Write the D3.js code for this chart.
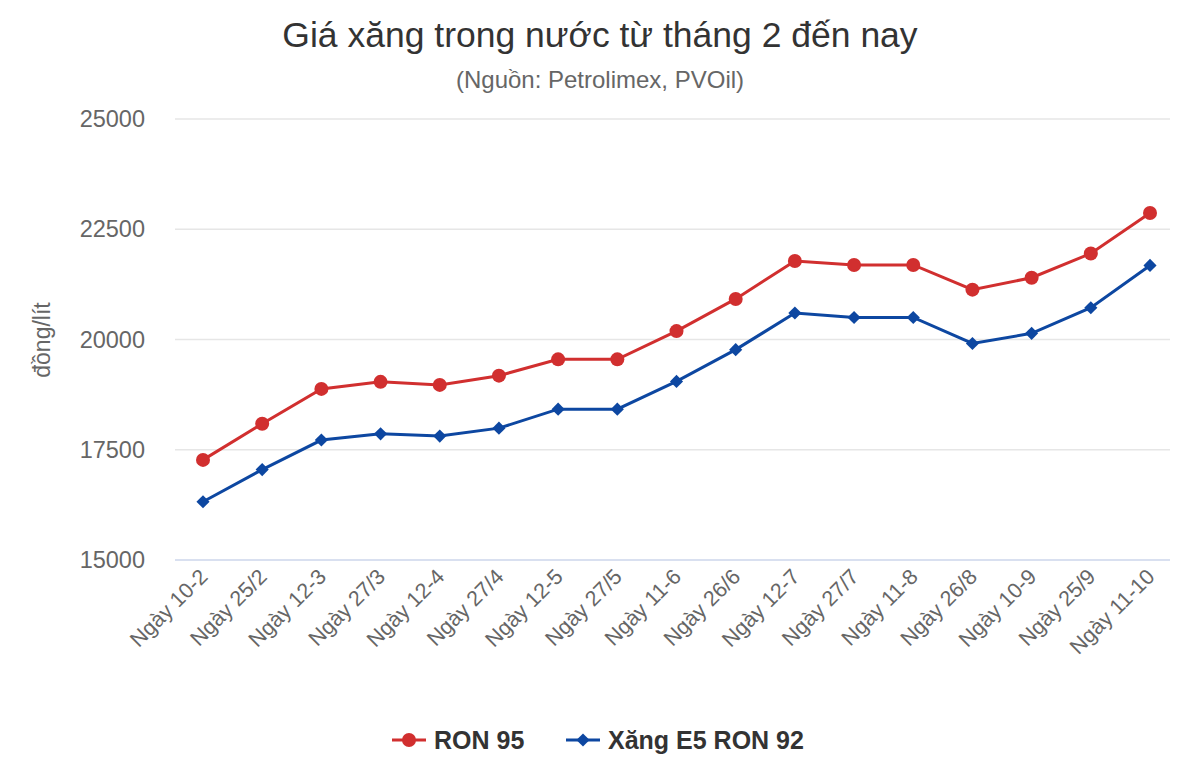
<!DOCTYPE html><html><head><meta charset="utf-8"><script src="https://cdn.jsdelivr.net/npm/d3@7"></script>
<style>body{margin:0;background:#fff}text{font-family:"Liberation Sans",Arial,sans-serif}</style></head><body><svg id="c" width="1200" height="766"></svg>
<script>
const categories=["Ngày 10-2","Ngày 25/2","Ngày 12-3","Ngày 27/3","Ngày 12-4","Ngày 27/4","Ngày 12-5","Ngày 27/5","Ngày 11-6","Ngày 26/6","Ngày 12-7","Ngày 27/7","Ngày 11-8","Ngày 26/8","Ngày 10-9","Ngày 25/9","Ngày 11-10"];
const ron95=[17270,18090,18880,19040,18970,19180,19550,19550,20190,20920,21780,21690,21690,21130,21400,21950,22870];
const e5=[16320,17050,17720,17860,17810,17990,18420,18420,19050,19770,20600,20500,20500,19910,20140,20720,21680];
const yTicks=[15000,17500,20000,22500,25000];
const svg=d3.select("#c");
const x=d3.scalePoint().domain(categories).range([203,1150]);
const y=d3.scaleLinear().domain([15000,25000]).range([560,119]);
svg.append("text").attr("x",600).attr("y",47).attr("text-anchor","middle").attr("font-size",35.5).attr("fill","#333").text("Giá xăng trong nước từ tháng 2 đến nay");
svg.append("text").attr("x",600).attr("y",88).attr("text-anchor","middle").attr("font-size",24).attr("fill","#666").text("(Nguồn: Petrolimex, PVOil)");
yTicks.forEach(t=>{svg.append("line").attr("x1",175).attr("x2",1170).attr("y1",y(t)).attr("y2",y(t)).attr("stroke",t===15000?"#ccd6eb":"#e6e6e6").attr("stroke-width",1.5);
svg.append("text").attr("x",145).attr("y",y(t)+8).attr("text-anchor","end").attr("font-size",23.5).attr("fill","#666").text(t);});
svg.append("text").attr("transform","translate(50,340) rotate(-90)").attr("text-anchor","middle").attr("font-size",23).attr("fill","#666").text("đồng/lít");
categories.forEach(c=>{svg.append("text").attr("transform",`translate(${x(c)+6},${578}) rotate(-45)`).attr("text-anchor","end").attr("font-size",21.5).attr("fill","#666").text(c);});
const line=d3.line().x((d,i)=>x(categories[i])).y(d=>y(d));
svg.append("path").datum(ron95).attr("d",line).attr("fill","none").attr("stroke","#d12f2f").attr("stroke-width",3);
svg.append("path").datum(e5).attr("d",line).attr("fill","none").attr("stroke","#0d47a1").attr("stroke-width",3);
ron95.forEach((v,i)=>svg.append("circle").attr("cx",x(categories[i])).attr("cy",y(v)).attr("r",7).attr("fill","#d12f2f"));
const dia=d3.symbol().type(d3.symbolDiamond2).size(110);
e5.forEach((v,i)=>svg.append("path").attr("d",dia()).attr("transform",`translate(${x(categories[i])},${y(v)})`).attr("fill","#0d47a1"));
svg.append("line").attr("x1",392).attr("x2",426).attr("y1",740).attr("y2",740).attr("stroke","#d12f2f").attr("stroke-width",3);
svg.append("circle").attr("cx",409).attr("cy",740).attr("r",7).attr("fill","#d12f2f");
svg.append("text").attr("x",434).attr("y",749).attr("font-size",25).attr("font-weight","bold").attr("fill","#333").text("RON 95");
svg.append("line").attr("x1",566).attr("x2",600).attr("y1",740).attr("y2",740).attr("stroke","#0d47a1").attr("stroke-width",3);
svg.append("path").attr("d",dia()).attr("transform","translate(583,740)").attr("fill","#0d47a1");
svg.append("text").attr("x",608).attr("y",749).attr("font-size",25).attr("font-weight","bold").attr("fill","#333").text("Xăng E5 RON 92");
</script></body></html>
